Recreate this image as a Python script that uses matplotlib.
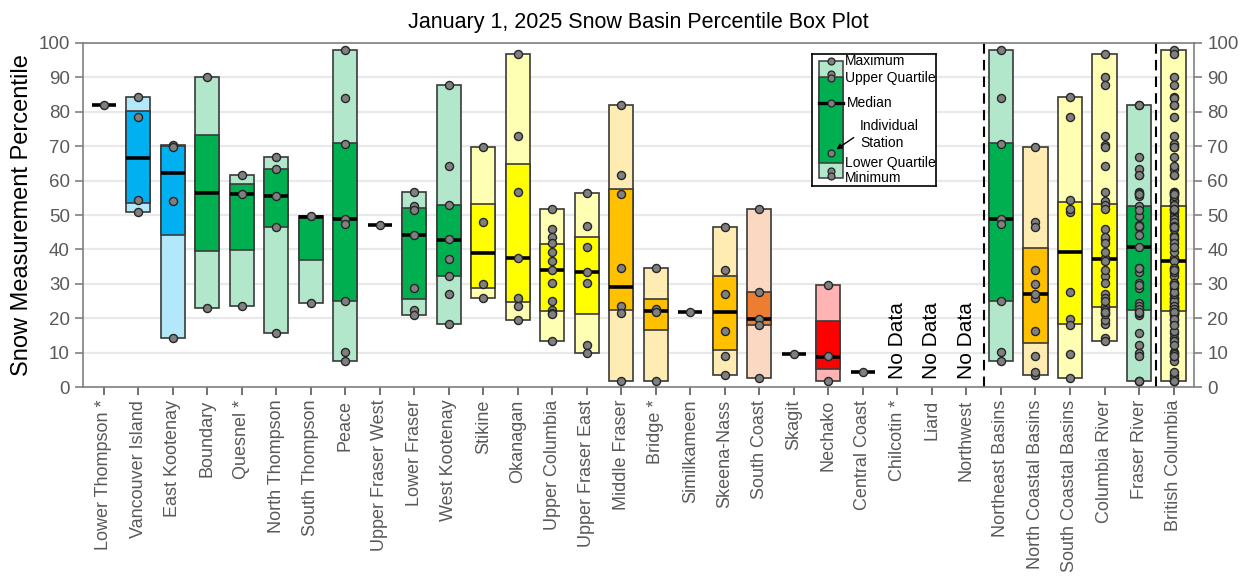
import numpy as np
import matplotlib.pyplot as plt
from matplotlib.patches import Rectangle

plt.rcParams['font.family'] = ['Liberation Sans', 'DejaVu Sans']

basins = ["Lower Thompson *", "Vancouver Island", "East Kootenay", "Boundary", "Quesnel *",
          "North Thompson", "South Thompson", "Peace", "Upper Fraser West", "Lower Fraser",
          "West Kootenay", "Stikine", "Okanagan", "Upper Columbia", "Upper Fraser East",
          "Middle Fraser", "Bridge *", "Similkameen", "Skeena-Nass", "South Coast", "Skagit",
          "Nechako", "Central Coast", "Chilcotin *", "Liard", "Northwest",
          "Northeast Basins", "North Coastal Basins", "South Coastal Basins",
          "Columbia River", "Fraser River", "British Columbia"]

nan = np.nan
# box statistics (nan = no box drawn)
box_max = [nan, 84.2, 70.5, 90.1, 61.6, 67.0, 49.8, 98.0, nan, 56.6, 87.7, 69.7, 96.9, 51.7, 56.3,
           82.0, 34.7, nan, 46.5, 51.7, nan, 29.6, nan, nan, nan, nan,
           98.0, 69.7, 84.2, 96.9, 82.0, 98.0]
box_q3 = [nan, 80.1, 70.1, 73.3, 58.9, 63.4, 49.6, 70.8, nan, 52.0, 52.8, 53.3, 64.8, 41.7, 43.7,
          57.5, 25.5, nan, 32.3, 27.7, nan, 19.2, nan, nan, nan, nan,
          70.8, 40.3, 53.8, 53.1, 52.7, 52.7]
box_med = [82.0, 66.5, 62.1, 56.5, 56.1, 55.4, 49.5, 48.9, 47.2, 44.3, 42.9, 39.1, 37.6, 34.0, 33.4,
           29.2, 22.0, 21.7, 21.7, 19.8, 9.5, 8.9, 4.3, nan, nan, nan,
           48.9, 27.0, 39.3, 37.3, 40.6, 36.8]
box_q1 = [nan, 53.6, 44.2, 39.7, 39.8, 46.6, 37.0, 25.0, nan, 25.7, 32.3, 28.9, 24.8, 22.1, 21.3,
          22.3, 16.5, nan, 10.9, 18.1, nan, 5.4, nan, nan, nan, nan,
          25.0, 12.8, 18.4, 23.4, 22.5, 22.0]
box_min = [nan, 51.0, 14.2, 22.9, 23.6, 15.7, 24.4, 7.7, nan, 21.1, 18.3, 25.8, 19.4, 13.5, 10.0,
           1.8, 1.8, nan, 3.6, 2.6, nan, 1.9, nan, nan, nan, nan,
           7.7, 3.6, 2.6, 13.5, 1.8, 1.8]

# individual station percentiles
stations = {
    "Lower Thompson *": [82.0],
    "Vancouver Island": [84.2, 78.4, 54.4, 51.0],
    "East Kootenay": [70.5, 69.8, 54.2, 14.2],
    "Boundary": [90.1, 22.9],
    "Quesnel *": [61.6, 56.1, 23.6],
    "North Thompson": [67.0, 63.3, 55.4, 46.5, 15.7],
    "South Thompson": [49.7, 24.4],
    "Peace": [98.0, 83.9, 70.7, 49.0, 47.3, 25.0, 10.3, 7.7],
    "Upper Fraser West": [47.2],
    "Lower Fraser": [56.6, 52.6, 51.5, 44.3, 28.7, 22.4, 21.1],
    "West Kootenay": [87.7, 64.2, 52.9, 43.0, 37.1, 32.3, 27.0, 18.3],
    "Stikine": [69.7, 47.9, 30.0, 25.8],
    "Okanagan": [96.9, 72.9, 56.6, 37.6, 26.0, 23.6, 19.4],
    "Upper Columbia": [51.7, 45.9, 43.6, 41.9, 39.3, 36.7, 34.0, 30.4, 24.9, 22.3, 21.6, 21.2, 13.5],
    "Upper Fraser East": [56.3, 46.7, 40.7, 33.6, 30.2, 12.3, 10.0],
    "Middle Fraser": [82.0, 61.7, 56.1, 34.7, 23.7, 21.6, 1.8],
    "Bridge *": [34.7, 22.8, 21.7, 1.8],
    "Similkameen": [21.7],
    "Skeena-Nass": [46.5, 34.1, 27.0, 16.4, 9.2, 3.6],
    "South Coast": [51.7, 27.7, 19.9, 18.2, 2.6],
    "Skagit": [9.5],
    "Nechako": [29.6, 9.0, 1.9],
    "Central Coast": [4.3],
    "Chilcotin *": [], "Liard": [], "Northwest": [],
}
groups = {
    "Northeast Basins": ["Peace"],
    "North Coastal Basins": ["Stikine", "Skeena-Nass", "Central Coast", "Liard", "Northwest"],
    "South Coastal Basins": ["Vancouver Island", "South Coast", "Skagit"],
    "Columbia River": ["East Kootenay", "Boundary", "West Kootenay", "Okanagan",
                       "Upper Columbia", "Similkameen"],
    "Fraser River": ["Lower Thompson *", "Quesnel *", "North Thompson", "South Thompson",
                     "Upper Fraser West", "Lower Fraser", "Upper Fraser East", "Middle Fraser",
                     "Bridge *", "Nechako", "Chilcotin *"],
}
for g, members in groups.items():
    stations[g] = [v for m in members for v in stations[m]]
stations["British Columbia"] = [v for b in basins[:26] for v in stations[b]]


def colours(m):
    # (dark, light) by median percentile class
    if m >= 60:
        return "#00b0f0", "#b3e7fa"
    if m >= 40:
        return "#00b050", "#b3e7cb"
    if m >= 30:
        return "#ffff00", "#ffffb3"
    if m >= 20:
        return "#ffc000", "#ffecb3"
    if m >= 10:
        return "#ed7d31", "#fad8c1"
    return "#ff0000", "#ffb3b3"


fig = plt.figure(figsize=(12.44, 5.77), dpi=100)
ax = fig.add_axes([0.0667, 0.329, 0.8933, 0.5965])
x = np.arange(len(basins))
w = 0.7
edge = "#3a3a3a"

for i, b in enumerate(basins):
    pts = stations[b]
    if not pts:
        ax.text(i, 2.5, "No Data", rotation=90, ha="center", va="bottom", fontsize=15)
        continue
    m = box_med[i]
    if not np.isnan(box_max[i]):
        dark, light = colours(m)
        ax.add_patch(Rectangle((i - w / 2, box_min[i]), w, box_max[i] - box_min[i],
                               fc=light, ec=edge, lw=1.2, zorder=2))
        ax.add_patch(Rectangle((i - w / 2, box_q1[i]), w, box_q3[i] - box_q1[i],
                               fc=dark, ec=edge, lw=1.2, zorder=3))
    ax.plot([i - w / 2, i + w / 2], [m, m], color="black", lw=2.6, zorder=4,
            solid_capstyle="butt")
    ax.plot(np.full(len(pts), i), pts, "o", ms=5.8, mfc="#808080", mec="#262626",
            mew=1.0, zorder=5, ls="none")

for xd in (25.5, 30.5):
    ax.axvline(xd, color="black", ls=(0, (5, 3)), lw=1.5, zorder=1)

ax.set_xlim(-0.6, 31.6)
ax.set_ylim(0, 100)
ax.set_yticks(np.arange(0, 101, 10))
ax.grid(axis="y", color="#e9e9e9", lw=1.6, zorder=0)
ax.set_axisbelow(True)
ax.set_xticks(x)
ax.set_xticklabels(basins, rotation=90, fontsize=13, color="#595959")
ax.tick_params(axis="y", labelsize=13.5, labelcolor="#595959", color="#808080", length=6, width=1.2)
ax.tick_params(axis="x", color="#595959", length=6, width=1.2, pad=3)
for s in ax.spines.values():
    s.set_color("#808080")
    s.set_linewidth(1.2)
ax.set_ylabel("Snow Measurement Percentile", fontsize=17, labelpad=4)
ax.set_title("January 1, 2025 Snow Basin Percentile Box Plot", fontsize=15.5, pad=11)

ax2 = ax.twinx()
ax2.set_ylim(0, 100)
ax2.set_yticks(np.arange(0, 101, 10))
ax2.tick_params(axis="y", labelsize=13.5, labelcolor="#595959", color="#808080", length=6, width=1.2)
for s in ax2.spines.values():
    s.set_visible(False)

# legend key drawn in its own pixel-like frame
lg = fig.add_axes([812 / 1244, 1 - 186 / 577, 124 / 1244, 132 / 577])
lg.set_xlim(0, 124)
lg.set_ylim(132, 0)
lg.set_xticks([])
lg.set_yticks([])
for s in lg.spines.values():
    s.set_color("black")
    s.set_linewidth(1.2)
ldark, llight = colours(50)
lg.add_patch(Rectangle((7, 7), 24, 117, fc=llight, ec=edge, lw=1.1))
lg.add_patch(Rectangle((7, 23), 24, 86, fc=ldark, ec=edge, lw=1.1))
lg.plot([7, 31], [49, 49], color="black", lw=2.4)
lg.plot([19] * 7, [7, 20, 24, 49, 99, 117, 122], "o", ms=5, mfc="#808080",
        mec="#262626", mew=0.9, ls="none")
lfs = 10
lg.text(33, 7, "Maximum", fontsize=lfs, va="center")
lg.text(33, 24, "Upper Quartile", fontsize=lfs, va="center")
lg.text(35, 49, "Median", fontsize=lfs, va="center")
lg.text(48, 72, "Individual", fontsize=lfs, va="center")
lg.text(48, 89, "Station", fontsize=lfs, va="center")
lg.text(33, 109, "Lower Quartile", fontsize=lfs, va="center")
lg.text(33, 124, "Minimum", fontsize=lfs, va="center")
lg.annotate("", xy=(22, 97), xytext=(44, 82),
            arrowprops=dict(arrowstyle="-|>", color="black", lw=1.0, mutation_scale=8))

fig.savefig("out.png", dpi=100)
